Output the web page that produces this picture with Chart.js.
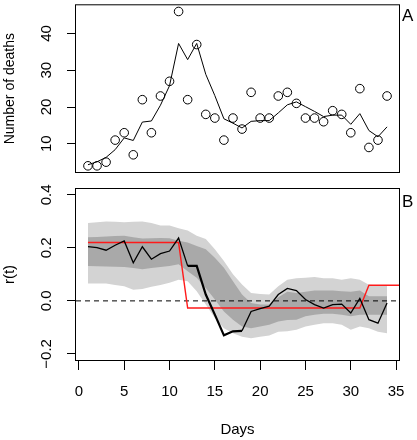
<!DOCTYPE html>
<html>
<head>
<meta charset="utf-8">
<script src="https://cdn.jsdelivr.net/npm/chart.js@4.4.1/dist/chart.umd.min.js"></script>
<style>
  html, body { margin: 0; padding: 0; background: #fff; }
  #wrap { position: relative; width: 417px; height: 440px; }
  canvas { position: absolute; left: 0; }
  #topChart { top: 0; }
  #bottomChart { top: 180px; }
</style>
</head>
<body>
<div id="wrap">
  <canvas id="topChart" width="417" height="185"></canvas>
  <canvas id="bottomChart" width="417" height="260"></canvas>
</div>
<script>
// days
const days = [1, 2, 3, 4, 5, 6, 7, 8, 9, 10, 11, 12, 13, 14, 15, 16, 17,
  18, 19, 20, 21, 22, 23, 24, 25, 26, 27, 28, 29, 30, 31, 32, 33, 34];

// panel A: observed deaths (circles) and fitted line
const deaths = [4, 4, 5, 11, 13, 7, 22, 13, 23, 27, 46, 22, 37, 18, 17, 11, 17,
  14, 24, 17, 17, 23, 24, 21, 17, 17, 16, 19, 18, 13, 25, 9, 11, 23];
const fitted = [4.3, 5.1, 6.3, 8.4, 11.6, 10.9, 15.9, 16.2, 20.5, 25.8, 37.3, 32.9, 37.3, 28.9, 23.1, 16.8, 15.6,
  14.3, 16.1, 16.3, 16.3, 18.4, 20.6, 21.4, 20.1, 18.8, 17.4, 17.8, 17.8, 15.3, 18.2, 13.6, 11.9, 14.6];

// panel B: r(t) estimate and bands
const rt = [0.205, 0.201, 0.191, 0.21, 0.226, 0.144, 0.204, 0.157, 0.178, 0.188, 0.237, 0.132, 0.132, 0.024, -0.052, -0.13, -0.115,
  -0.113, -0.04, -0.029, -0.02, 0.024, 0.047, 0.039, 0.005, -0.014, -0.027, -0.014, -0.012, -0.046, 0.009, -0.071, -0.084, -0.008];
const outerUpper = [0.294, 0.297, 0.299, 0.298, 0.297, 0.298, 0.299, 0.294, 0.284, 0.284, 0.274, 0.265, 0.246, 0.233, 0.195, 0.15, 0.1,
  0.062, 0.03, 0.026, 0.024, 0.055, 0.08, 0.085, 0.087, 0.09, 0.085, 0.085, 0.08, 0.085, 0.08, 0.061, 0.059, 0.059];
const innerUpper = [0.24, 0.241, 0.243, 0.245, 0.246, 0.24, 0.235, 0.236, 0.237, 0.236, 0.227, 0.22, 0.207, 0.195, 0.163, 0.125, 0.074,
  0.024, -0.008, -0.014, -0.014, 0.014, 0.034, 0.03, 0.034, 0.039, 0.039, 0.039, 0.036, 0.034, 0.039, 0.017, 0.017, 0.017];
const innerLower = [0.132, 0.131, 0.13, 0.129, 0.128, 0.124, 0.119, 0.124, 0.128, 0.132, 0.138, 0.112, 0.087, 0.049, 0.005, -0.04, -0.071,
  -0.097, -0.103, -0.097, -0.09, -0.078, -0.072, -0.071, -0.058, -0.052, -0.049, -0.049, -0.052, -0.058, -0.052, -0.052, -0.052, -0.052];
const outerLower = [0.066, 0.066, 0.066, 0.06, 0.055, 0.042, 0.045, 0.053, 0.06, 0.068, 0.08, 0.074, 0.036, -0.014, -0.065, -0.103, -0.122,
  -0.135, -0.141, -0.135, -0.131, -0.116, -0.115, -0.109, -0.097, -0.09, -0.084, -0.084, -0.09, -0.109, -0.097, -0.103, -0.116, -0.122];

// red step line (true r)
const stepDays = [1, 11, 12, 31, 32, 36];
const stepValues = [0.22, 0.22, -0.027, -0.027, 0.059, 0.059];

// axes
const xMin = -0.32, xMax = 35.32;
const deathMin = 2.32, deathMax = 47.68;
const rMin = -0.223, rMax = 0.422;
const zeroLevel = 0;

const pts = (xs, ys) => xs.map((x, i) => ({ x: x, y: ys[i] }));
const tickFont = { family: '"Liberation Sans", Arial, sans-serif', size: 15 };

// box around plot + panel letter
const panelBox = {
  id: 'panelBox',
  afterDraw(chart, args, opts) {
    const { ctx, chartArea: a } = chart;
    ctx.save();
    ctx.strokeStyle = '#000';
    ctx.lineWidth = 1;
    ctx.strokeRect(a.left - 0.5, a.top - 0.5, a.right - a.left + 1, a.bottom - a.top + 1);
    ctx.fillStyle = '#000';
    ctx.font = '17px "Liberation Sans", Arial, sans-serif';
    ctx.textBaseline = 'alphabetic';
    ctx.fillText(opts.text, a.right + 3, a.top + opts.dy);
    ctx.restore();
  }
};

const yTickStyle = (pad) => ({
  font: tickFont, color: '#000', includeBounds: false,
  minRotation: 90, maxRotation: 90, crossAlign: 'center', padding: pad
});

// fixed axis sizes so the plot boxes line up with the reference
const fixWidth = w => s => { s.width = w; s.paddingTop = 0; s.paddingBottom = 0; };
const fixHeight = h => s => { s.height = h; s.paddingLeft = 0; s.paddingRight = 0; };

// panel A
new Chart(document.getElementById('topChart'), {
  type: 'line',
  data: {
    datasets: [
      { data: pts(days, fitted), borderColor: '#000', borderWidth: 1, pointRadius: 0, tension: 0, fill: false },
      { data: pts(days, deaths), showLine: false, pointRadius: 4.3, pointBorderWidth: 1,
        pointBorderColor: '#000', pointBackgroundColor: 'rgba(255,255,255,0)' }
    ]
  },
  options: {
    responsive: false, animation: false, devicePixelRatio: 1,
    layout: { padding: { left: 0, right: 18, top: 2, bottom: 13 } },
    plugins: { legend: { display: false }, tooltip: { enabled: false }, panelBox: { text: 'A', dy: 16 } },
    scales: {
      x: { type: 'linear', min: xMin, max: xMax, display: false },
      y: {
        min: deathMin, max: deathMax,
        ticks: Object.assign(yTickStyle(12), { stepSize: 10 }),
        grid: { drawOnChartArea: false, tickLength: 9, color: '#000' },
        border: { display: false },
        title: { display: true, text: 'Number of deaths', color: '#000',
          font: { family: tickFont.family, size: 14 }, padding: { top: 2, bottom: 0 } },
        afterFit: fixWidth(76)
      }
    }
  },
  plugins: [panelBox]
});

// panel B
new Chart(document.getElementById('bottomChart'), {
  type: 'line',
  data: {
    datasets: [
      { data: pts(days, outerUpper), fill: '+1', backgroundColor: '#d3d3d3', borderWidth: 0,
        borderColor: 'rgba(0,0,0,0)', pointRadius: 0, order: 10 },
      { data: pts(days, outerLower), fill: false, borderWidth: 0, borderColor: 'rgba(0,0,0,0)', pointRadius: 0, order: 10 },
      { data: pts(days, innerUpper), fill: '+1', backgroundColor: '#a9a9a9', borderWidth: 0,
        borderColor: 'rgba(0,0,0,0)', pointRadius: 0, order: 9 },
      { data: pts(days, innerLower), fill: false, borderWidth: 0, borderColor: 'rgba(0,0,0,0)', pointRadius: 0, order: 9 },
      { data: [{ x: xMin, y: zeroLevel }, { x: xMax, y: zeroLevel }], borderColor: '#000', borderWidth: 1,
        borderDash: [5, 4], pointRadius: 0, fill: false, order: 3 },
      { data: pts(stepDays, stepValues), borderColor: '#ff1a1a', borderWidth: 1.4, pointRadius: 0, fill: false, order: 2 },
      { data: pts(days, rt), borderColor: '#000', borderWidth: 1.3, pointRadius: 0, fill: false, order: 1,
        segment: { borderWidth: c => (c.p0DataIndex >= 11 && c.p0DataIndex <= 16 ? 2.2 : 1.3) } }
    ]
  },
  options: {
    responsive: false, animation: false, devicePixelRatio: 1,
    layout: { padding: { left: 0, right: 18, top: 9, bottom: 0 } },
    plugins: { legend: { display: false }, tooltip: { enabled: false }, panelBox: { text: 'B', dy: 17.5 } },
    scales: {
      x: {
        type: 'linear', min: xMin, max: xMax,
        ticks: { stepSize: 5, includeBounds: false, font: tickFont, color: '#000', padding: 13, maxRotation: 0 },
        grid: { drawOnChartArea: false, tickLength: 10, color: '#000' },
        border: { display: false },
        title: { display: true, text: 'Days', color: '#000', font: tickFont, padding: { top: 0, bottom: 1 } },
        afterFit: fixHeight(80)
      },
      y: {
        min: rMin, max: rMax,
        ticks: Object.assign(yTickStyle(5.7), {
          stepSize: 0.1,
          callback: v => (Math.round(v * 10) % 2 === 0 ? v.toFixed(1).replace('-', '\u2212') : '')
        }),
        grid: { drawOnChartArea: false, tickLength: 9, color: '#000' },
        border: { display: false },
        title: { display: true, text: 'r(t)', color: '#000', font: tickFont, padding: { top: 1, bottom: 0 } },
        afterFit: fixWidth(76)
      }
    }
  },
  plugins: [panelBox]
});
</script>
</body>
</html>
